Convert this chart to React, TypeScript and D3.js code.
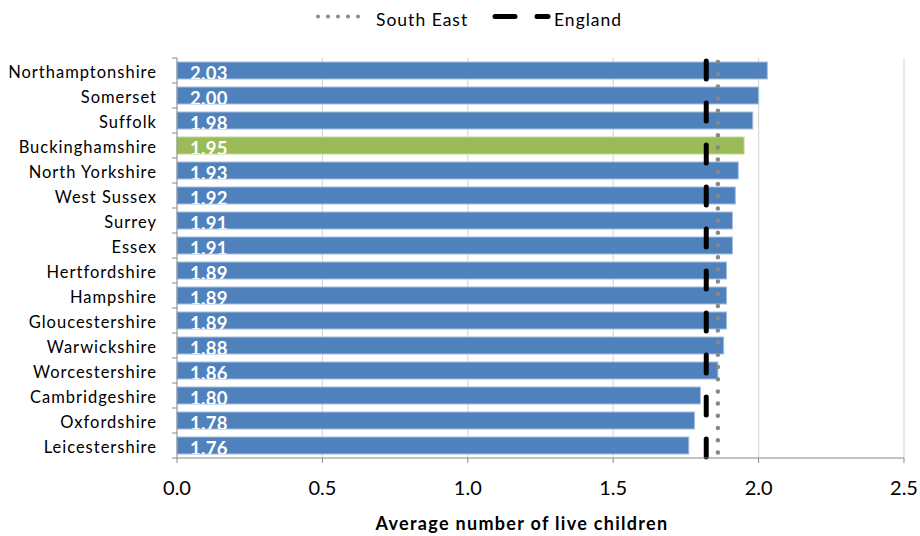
import React from "react";
import * as d3 from "d3";

const categories = ["Northamptonshire","Somerset","Suffolk","Buckinghamshire","North Yorkshire","West Sussex","Surrey","Essex","Hertfordshire","Hampshire","Gloucestershire","Warwickshire","Worcestershire","Cambridgeshire","Oxfordshire","Leicestershire"];
const values = [2.03,2.0,1.98,1.95,1.93,1.92,1.91,1.91,1.89,1.89,1.89,1.88,1.86,1.8,1.78,1.76];
const highlight = "Buckinghamshire";
const southEast = 1.86;
const england = 1.82;
const xTicks = [0, 0.5, 1.0, 1.5, 2.0, 2.5];

const W = 920, H = 536;
const FONT = "Lato, 'Open Sans', sans-serif";

export default function App() {
  const left = 177, right = 904, top = 58, bottom = 458;
  const x = d3.scaleLinear().domain([0, 2.5]).range([left, right]);
  const y = d3.scaleBand<string>().domain(categories).range([top, bottom]).paddingInner(0.32).paddingOuter(0.16);
  const step = y.step();
  return (
    <svg width={W} height={H} style={{ position: "absolute", left: 0, top: 0, background: "#fff" }}>
      <defs>
        {categories.map((c, i) => (
          <clipPath id={`clip${i}`} key={c}>
            <rect x={x(0)} y={y(c)!} width={x(values[i]) - x(0)} height={y.bandwidth()} />
          </clipPath>
        ))}
      </defs>
      {xTicks.slice(1).map(t => (
        <line key={t} x1={x(t)} x2={x(t)} y1={top} y2={bottom} stroke="#d9d9d9" strokeWidth={1.2} />
      ))}
      {categories.map((c, i) => (
        <g key={c}>
          <rect x={x(0)} y={y(c)!} width={x(values[i]) - x(0)} height={y.bandwidth()}
            fill={c === highlight ? "#9BBB59" : "#4F81BD"}
            stroke={c === highlight ? "#c3d69b" : "#a7c0de"} strokeWidth={1} />
          <text x={x(0) + 13} y={y(c)! + y.bandwidth() + 1} fill="#fff" fontWeight="bold" fontSize={18.5}
            letterSpacing={0.3} fontFamily={FONT} clipPath={`url(#clip${i})`}>{values[i].toFixed(2)}</text>
        </g>
      ))}
      <line x1={x(southEast)} x2={x(southEast)} y1={top + 4} y2={bottom} stroke="#888" strokeWidth={4.5}
        strokeLinecap="round" strokeDasharray="0 12.2" />
      <line x1={x(england)} x2={x(england)} y1={top + 3} y2={bottom} stroke="#000" strokeWidth={5}
        strokeLinecap="round" strokeDasharray="18 24" />
      <line x1={left} x2={left} y1={top} y2={bottom} stroke="#888" strokeWidth={1} />
      {d3.range(categories.length + 1).map(i => (
        <line key={i} x1={left - 5} x2={left} y1={top + i * step} y2={top + i * step} stroke="#888" strokeWidth={1} />
      ))}
      {categories.map(c => (
        <text key={c} x={157} y={y(c)! + y.bandwidth() / 2 + 7.5} textAnchor="end" fontSize={16.5}
          letterSpacing={1} fontFamily={FONT} fill="#000">{c}</text>
      ))}
      <line x1={left} x2={right} y1={bottom} y2={bottom} stroke="#888" strokeWidth={1} />
      {xTicks.map(t => (
        <g key={t}>
          <line x1={x(t)} x2={x(t)} y1={bottom} y2={bottom + 5} stroke="#888" strokeWidth={1} />
          <text x={x(t)} y={495} textAnchor="middle" fontSize={20} fontFamily={FONT} fill="#000">{t.toFixed(1)}</text>
        </g>
      ))}
      <text x={522} y={530} textAnchor="middle" fontSize={18} fontWeight="bold" letterSpacing={1.3} fontFamily={FONT} fill="#000">
        Average number of live children
      </text>
      <line x1={318} x2={368} y1={16.5} y2={16.5} stroke="#888" strokeWidth={4} strokeLinecap="round" strokeDasharray="0 10" />
      <text x={376} y={26} fontSize={17.5} letterSpacing={1} fontFamily={FONT} fill="#000">South East</text>
      <line x1={495} x2={515} y1={16.5} y2={16.5} stroke="#000" strokeWidth={5} strokeLinecap="round" />
      <line x1={537} x2={548} y1={16.5} y2={16.5} stroke="#000" strokeWidth={5} strokeLinecap="round" />
      <text x={554} y={26} fontSize={17.5} letterSpacing={1} fontFamily={FONT} fill="#000">England</text>
    </svg>
  );
}
